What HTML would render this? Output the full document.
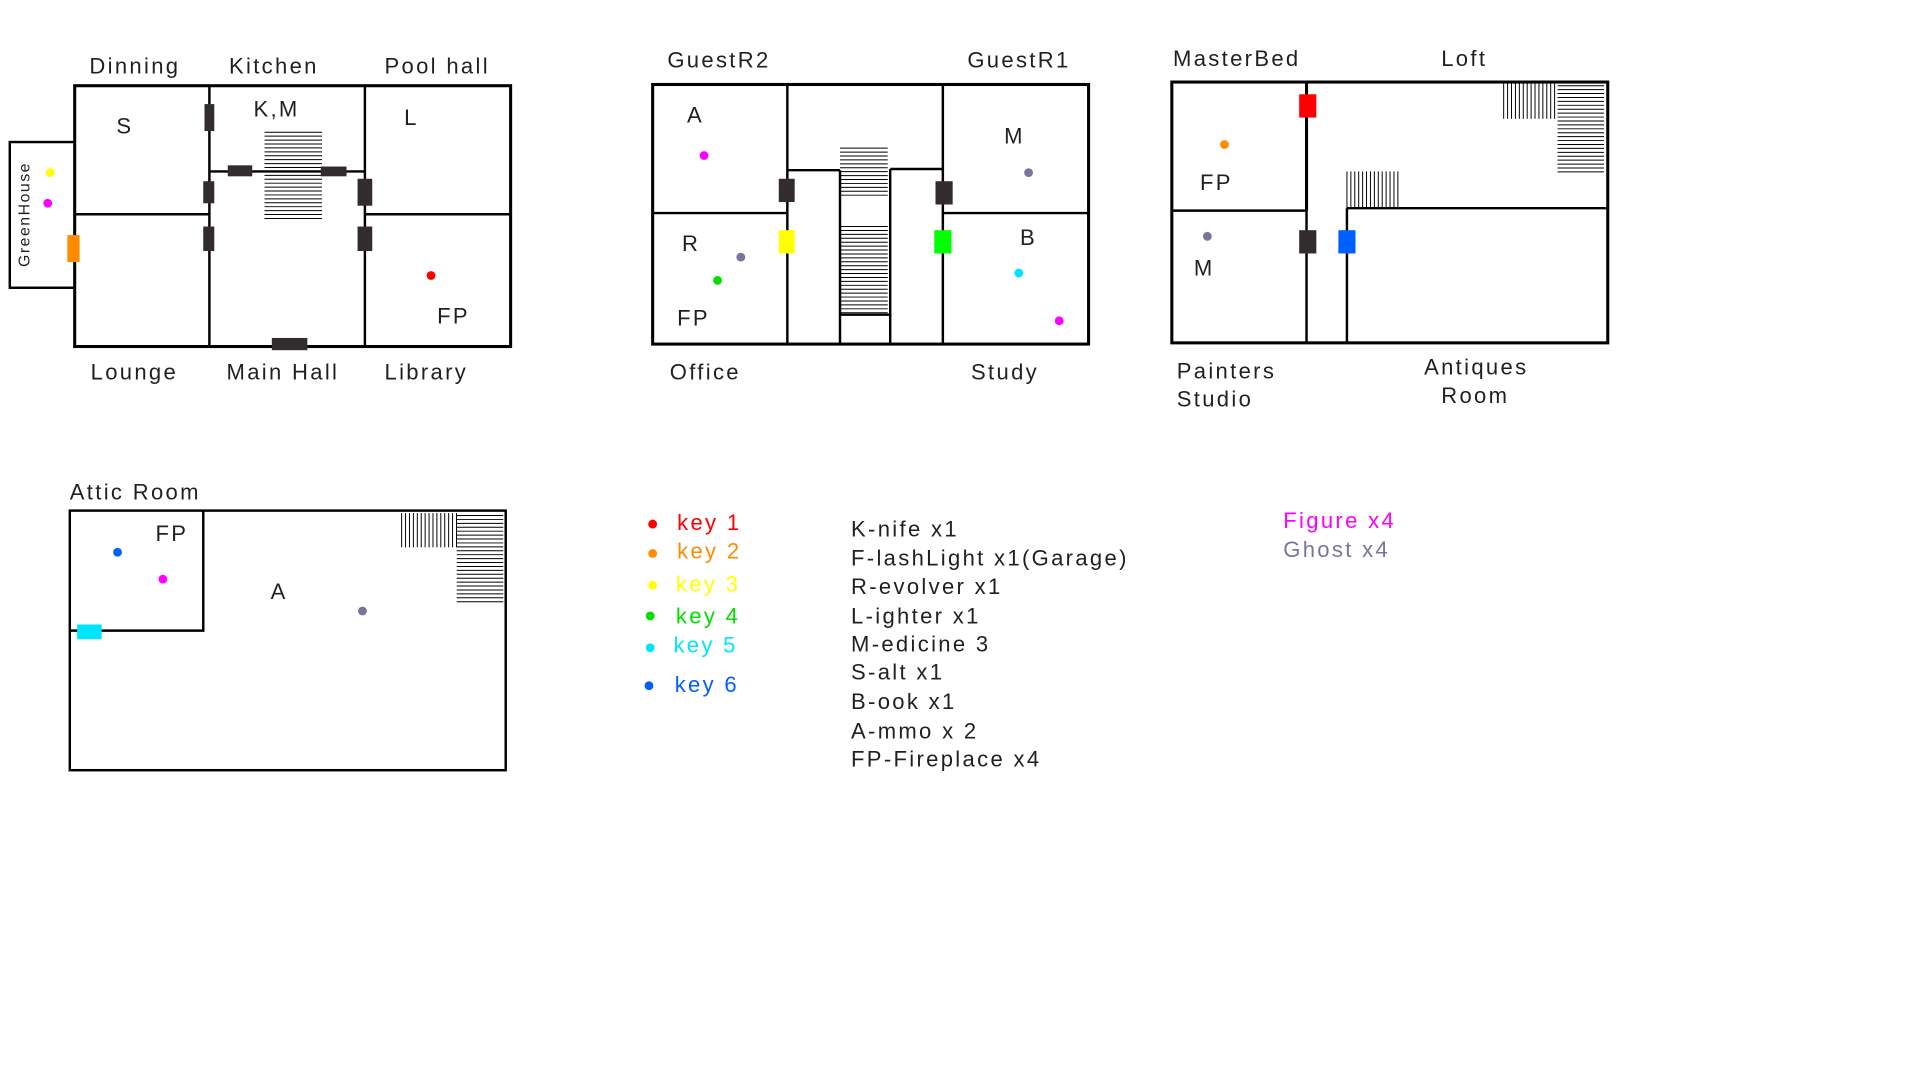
<!DOCTYPE html>
<html><head><meta charset="utf-8"><style>
html,body{margin:0;padding:0;background:#fff;width:1920px;height:1080px;overflow:hidden}
svg{display:block}
text{font-family:"Liberation Sans",sans-serif;font-size:18px;letter-spacing:1.9px;fill:#231f20}
.w{fill:none;stroke:#000;stroke-width:2}
.W{fill:none;stroke:#000;stroke-width:2.5}
.d{fill:#332c2c}
.st{stroke:#000;stroke-width:0.8}
</style></head><body>
<svg width="1920" height="1080" viewBox="0 0 1568 882">
<g id="stairs"></g>

<g>
<rect class="w" x="8" y="116" width="53" height="119"/>
<rect class="W" x="61" y="70" width="356" height="213"/>
<line class="w" x1="171" y1="70" x2="171" y2="283"/>
<line class="w" x1="298" y1="70" x2="298" y2="283"/>
<line class="w" x1="61" y1="175" x2="171" y2="175"/>
<line class="w" x1="298" y1="175" x2="417" y2="175"/>
<line class="w" x1="171" y1="140" x2="298" y2="140"/>
<rect class="d" x="167" y="85" width="8" height="22"/>
<rect class="d" x="166" y="148" width="9" height="18"/>
<rect class="d" x="166" y="185" width="9" height="20"/>
<rect class="d" x="186" y="135" width="20" height="9"/>
<rect class="d" x="262" y="136" width="21" height="8"/>
<rect class="d" x="292" y="146" width="12" height="22"/>
<rect class="d" x="292" y="185" width="12" height="20"/>
<rect class="d" x="222" y="276" width="29" height="10"/>
<rect x="55" y="192" width="10" height="22" fill="#ff8c00"/>
<circle cx="41" cy="141" r="3.6" fill="#ffff00"/>
<circle cx="39" cy="166" r="3.6" fill="#ff00ff"/>
<circle cx="352" cy="225" r="3.6" fill="#ff0000"/>
<text x="73" y="60">Dinning</text>
<text x="187" y="60">Kitchen</text>
<text x="314" y="60">Pool hall</text>
<text x="74" y="310">Lounge</text>
<text x="185" y="310">Main Hall</text>
<text x="314" y="310">Library</text>
<text x="95" y="109">S</text>
<text x="207" y="95">K,M</text>
<text x="330" y="102">L</text>
<text x="357" y="264">FP</text>
<text x="0" y="0" transform="translate(24,218) rotate(-90)" style="font-size:13px;letter-spacing:1.2px">GreenHouse</text>
</g>

<g>
<rect class="W" x="533" y="69" width="356" height="212"/>
<line class="w" x1="643" y1="69" x2="643" y2="281"/>
<line class="w" x1="770" y1="69" x2="770" y2="281"/>
<line class="w" x1="533" y1="174" x2="643" y2="174"/>
<line class="w" x1="770" y1="174" x2="889" y2="174"/>
<line class="w" x1="643" y1="139" x2="686" y2="139"/>
<line class="w" x1="727" y1="138" x2="770" y2="138"/>
<line class="w" x1="686" y1="139" x2="686" y2="281"/>
<line class="w" x1="727" y1="138" x2="727" y2="281"/>
<line class="w" x1="686" y1="257" x2="727" y2="257"/>
<rect class="d" x="636" y="146" width="13" height="19"/>
<rect class="d" x="764" y="148" width="14" height="19"/>
<rect x="636" y="188" width="13" height="19" fill="#ffff00"/>
<rect x="763" y="188" width="14" height="19" fill="#00ff00"/>
<circle cx="575" cy="127" r="3.6" fill="#ff00ff"/>
<circle cx="605" cy="210" r="3.6" fill="#77759c"/>
<circle cx="586" cy="229" r="3.6" fill="#00e000"/>
<circle cx="840" cy="141" r="3.6" fill="#77759c"/>
<circle cx="832" cy="223" r="3.6" fill="#00e5ff"/>
<circle cx="865" cy="262" r="3.6" fill="#ff00ff"/>
<text x="545" y="55">GuestR2</text>
<text x="790" y="55">GuestR1</text>
<text x="547" y="310">Office</text>
<text x="793" y="310">Study</text>
<text x="561" y="100">A</text>
<text x="557" y="205">R</text>
<text x="553" y="266">FP</text>
<text x="820" y="117">M</text>
<text x="833" y="200">B</text>
</g>

<g>
<rect class="W" x="957" y="67" width="356" height="213"/>
<line class="W" x1="1067" y1="67" x2="1067" y2="172"/>
<line class="w" x1="1067" y1="172" x2="1067" y2="280"/>
<line class="w" x1="1100" y1="170" x2="1100" y2="280"/>
<line class="w" x1="957" y1="172" x2="1067" y2="172"/>
<line class="w" x1="1100" y1="170" x2="1313" y2="170"/>
<rect x="1061" y="77" width="14" height="19" fill="#ff0000"/>
<rect class="d" x="1061" y="188" width="14" height="19"/>
<rect x="1093" y="188" width="14" height="19" fill="#0060ff"/>
<circle cx="1000" cy="118" r="3.6" fill="#ff8c00"/>
<circle cx="986" cy="193" r="3.6" fill="#77759c"/>
<text x="958" y="54">MasterBed</text>
<text x="1177" y="54">Loft</text>
<text x="961" y="309">Painters</text>
<text x="961" y="332">Studio</text>
<text x="1163" y="306">Antiques</text>
<text x="1177" y="329">Room</text>
<text x="980" y="155">FP</text>
<text x="975" y="225">M</text>
</g>

<g>
<rect class="w" x="57" y="417" width="356" height="212"/>
<polyline class="w" points="57,515 166,515 166,417"/>
<rect x="63" y="510" width="20" height="12" fill="#00e5ff"/>
<circle cx="96" cy="451" r="3.6" fill="#0060ff"/>
<circle cx="133" cy="473" r="3.6" fill="#ff00ff"/>
<circle cx="296" cy="499" r="3.6" fill="#77759c"/>
<text x="57" y="408">Attic Room</text>
<text x="127" y="442">FP</text>
<text x="221" y="489">A</text>
</g>

<g>
<circle cx="533" cy="428" r="3.6" fill="#ff0000"/><text x="553" y="433" style="fill:#ff0000">key 1</text>
<circle cx="533" cy="452" r="3.6" fill="#ff8c00"/><text x="553" y="456" style="fill:#ff8c00">key 2</text>
<circle cx="533" cy="478" r="3.6" fill="#ffff00"/><text x="552" y="483" style="fill:#ffff00">key 3</text>
<circle cx="531" cy="503" r="3.6" fill="#00e000"/><text x="552" y="509" style="fill:#00e000">key 4</text>
<circle cx="531" cy="529" r="3.6" fill="#00e5ff"/><text x="550" y="533" style="fill:#00e5ff">key 5</text>
<circle cx="530" cy="560" r="3.6" fill="#0060ff"/><text x="551" y="565" style="fill:#0060ff">key 6</text>
</g>
<g>
<text x="695" y="438">K-nife x1</text>
<text x="695" y="462">F-lashLight x1(Garage)</text>
<text x="695" y="485">R-evolver x1</text>
<text x="695" y="509">L-ighter x1</text>
<text x="695" y="532">M-edicine 3</text>
<text x="695" y="555">S-alt x1</text>
<text x="695" y="579">B-ook x1</text>
<text x="695" y="603">A-mmo x 2</text>
<text x="695" y="626">FP-Fireplace x4</text>
<text x="1048" y="431" style="fill:#ff00ff">Figure x4</text>
<text x="1048" y="455" style="fill:#77759c">Ghost x4</text>
</g>
</svg>
<script>
// stair hatching: [x1, x2, yStart, yEnd, horizontal?]
const stairSets = [
  [216, 263, 108, 180, 1],
  [686, 725, 121, 160, 1],
  [686, 725, 185, 256, 1],
  [1272, 1310, 70, 143, 1],
  [1228, 1272, 67, 97, 0],
  [1100, 1142, 140, 170, 0],
  [373, 411, 421, 493, 1],
  [328, 373, 419, 447, 0]
];
const g = document.getElementById('stairs');
const ns = 'http://www.w3.org/2000/svg';
stairSets.forEach(s => {
  const [a, b, c, d, h] = s;
  if (h) {
    for (let y = c; y <= d; y += 3.2) {
      const l = document.createElementNS(ns, 'line');
      l.setAttribute('x1', a); l.setAttribute('x2', b);
      l.setAttribute('y1', y); l.setAttribute('y2', y);
      l.setAttribute('class', 'st');
      
      
      g.appendChild(l);
    }
  } else {
    for (let x = a; x <= b; x += 3.2) {
      const l = document.createElementNS(ns, 'line');
      l.setAttribute('x1', x); l.setAttribute('x2', x);
      l.setAttribute('y1', c); l.setAttribute('y2', d);
      l.setAttribute('class', 'st');
      
      
      g.appendChild(l);
    }
  }
});
</script>
</body></html>
